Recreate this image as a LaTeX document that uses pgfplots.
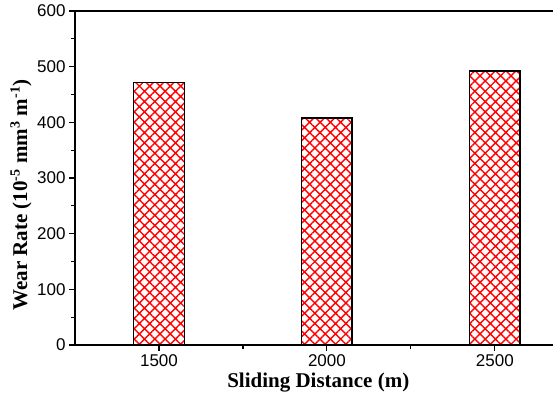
\documentclass[border=0pt]{standalone}
\usepackage{pgfplots}
\pgfplotsset{compat=1.18}
\usepackage{fontspec}
\setmainfont{Liberation Sans}
\newfontfamily\tnr{Liberation Serif}
\usetikzlibrary{patterns.meta,calc}

\begin{document}
\begin{tikzpicture}
\begin{axis}[
    name=ax,
    scale only axis,
    width=478pt,
    height=334pt,
    xmin=1250, xmax=2673,
    ymin=0, ymax=600,
    axis x line=box,
    axis y line=left,
    axis line style={-, line width=1.3pt},
    xtick pos=bottom,
    tick align=outside,
    xtick={1500,2000,2500},
    minor xtick={1750,2250},
    ytick={0,100,...,600},
    minor ytick={50,150,...,550},
    major tick length=6pt,
    minor tick length=4pt,
    every tick/.style={black, line width=1.1pt},
    tick label style={font=\fontsize{17}{20}\selectfont},
    /pgf/number format/assume math mode=true,
    /pgf/number format/set thousands separator={},
    xlabel={\tnr\bfseries Sliding Distance (m)},
    ylabel={\tnr\bfseries Wear Rate (10\textsuperscript{\fontsize{14}{14}\selectfont-5} mm\textsuperscript{\fontsize{14}{14}\selectfont 3} m\textsuperscript{\fontsize{14}{14}\selectfont -1})},
    label style={font=\fontsize{21}{24}\selectfont},
    xlabel style={at={(axis description cs:0.509,-0.111)}, anchor=center},
    ylabel style={at={(axis description cs:-0.113,0.449)}, anchor=center, rotate=0},
    ybar,
    bar width=150,
]
\addplot[draw=black, line width=1.3pt,
    pattern={Hatch[angle=45, distance=7.3pt, line width=1.4pt]},
    pattern color=red]
    coordinates {
    (1500,472)
    (2000,408)
    (2500,492)
};
\end{axis}
\pgfresetboundingbox
\path ($(ax.south west)+(-75pt,-56pt)$) rectangle ($(ax.north east)+(0pt,11pt)$);
\end{tikzpicture}
\end{document}
